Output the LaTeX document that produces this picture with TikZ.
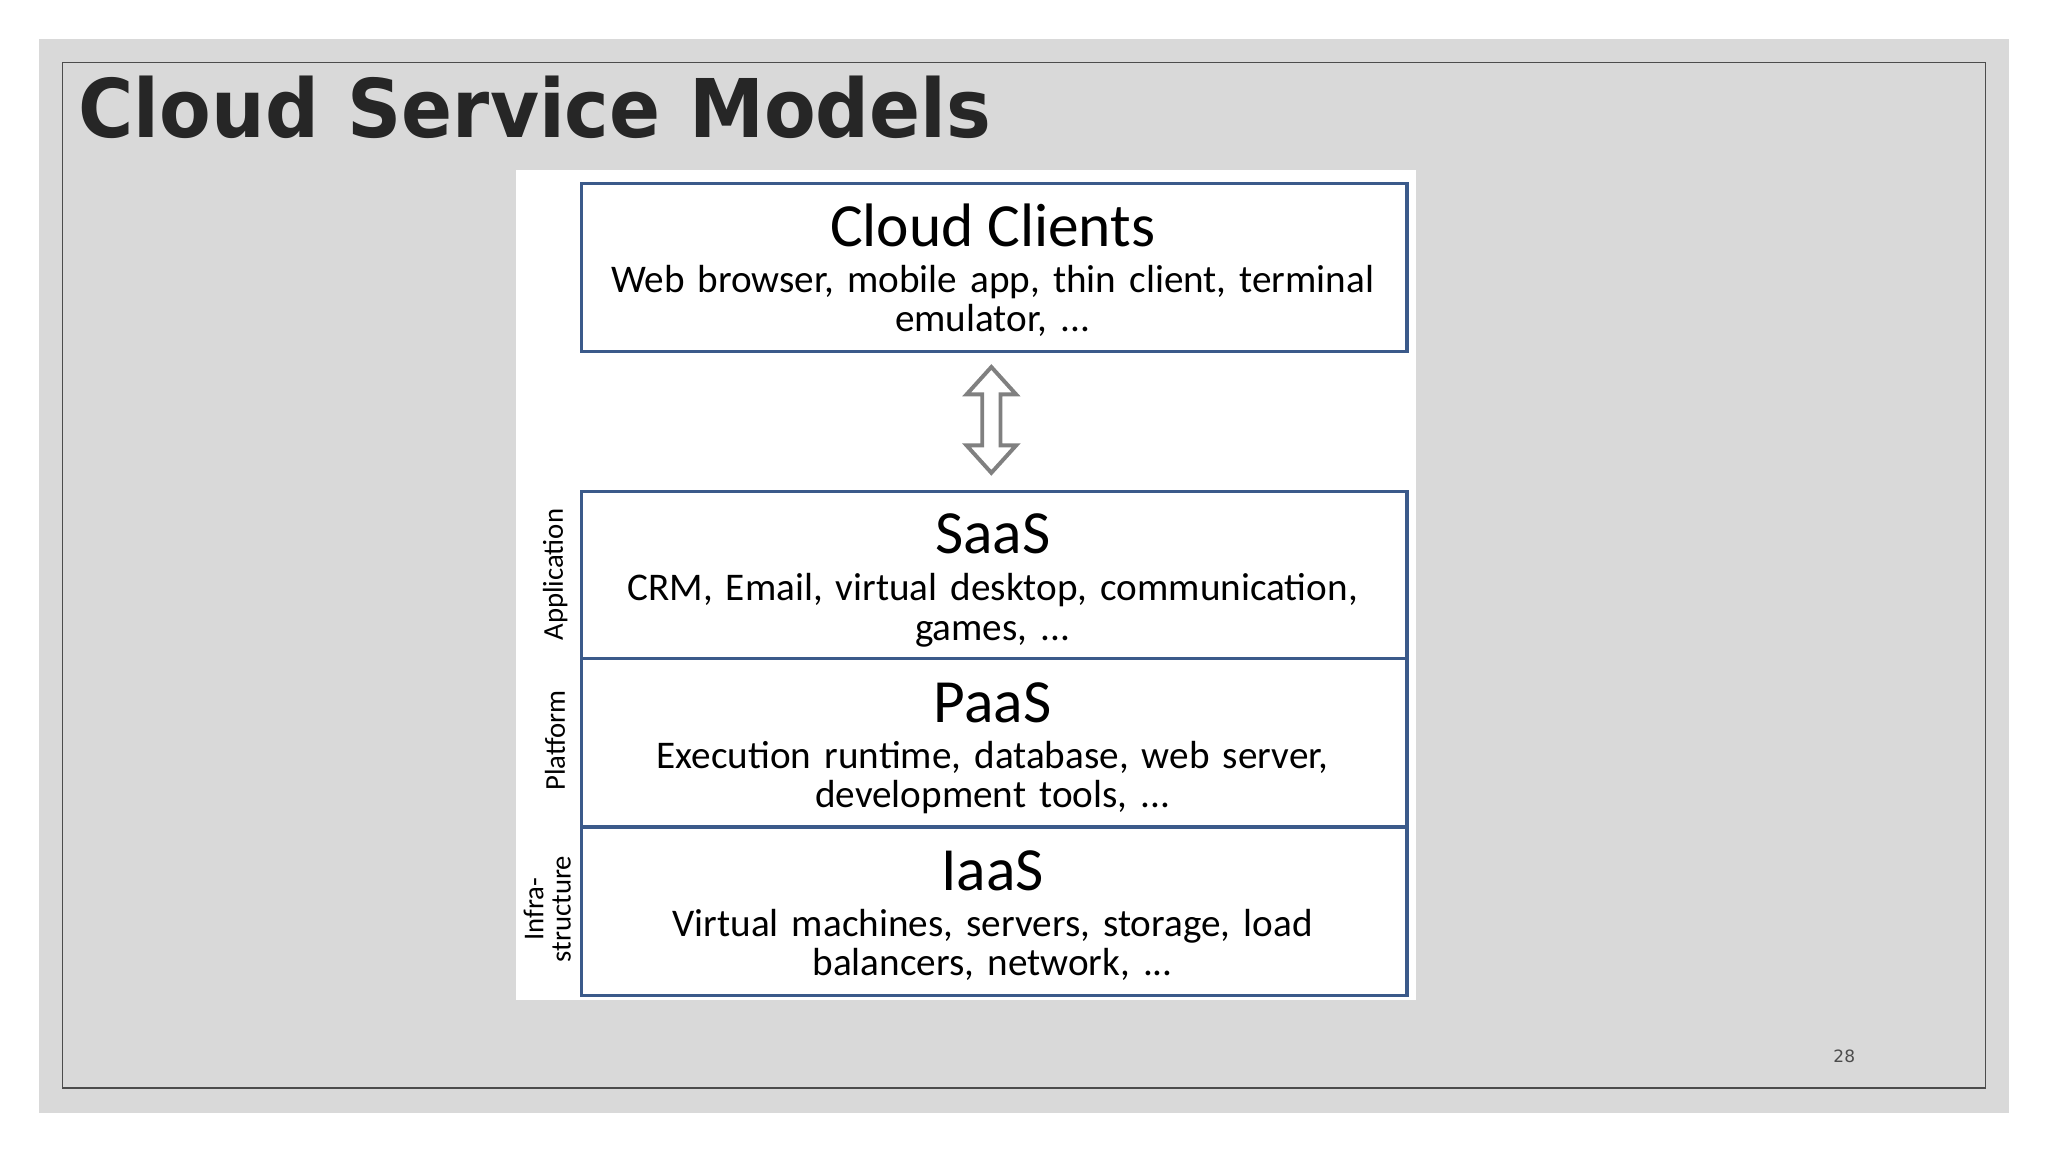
\documentclass[tikz,border=0pt]{standalone}
\usepackage{fontspec}
\setmainfont{Carlito}
\newfontfamily\titlefont{DejaVu Sans}
\definecolor{bgray}{HTML}{D9D9D9}
\definecolor{boxblue}{HTML}{3B5A8A}
\begin{document}
\begin{tikzpicture}[x=1pt,y=-1pt,
  layer/.style={draw=boxblue,line width=2.5pt,fill=white,minimum width=632pt,minimum height=129pt,anchor=north west,inner sep=0pt},
  head/.style={font=\fontsize{47}{50}\selectfont},
  body/.style={font=\fontsize{30}{30}\selectfont,align=center,text width=620pt},
  side/.style={font=\fontsize{22}{21}\selectfont,rotate=90,align=center}]
\useasboundingbox (0,0) rectangle (1568,882);
\fill[white] (0,0) rectangle (1568,882);
\fill[bgray] (30,30) rectangle (1538,852);
\draw[black!70,line width=0.8pt] (48,48) rectangle (1520,833);
\node[anchor=base west,inner sep=0pt,xscale=0.93,font=\titlefont\bfseries\fontsize{62}{66}\selectfont,text=black!85] (title) at (60,105) {Cloud\hspace{2pt} Service\hspace{2pt} Models};
\fill[white] (395,130) rectangle (1084,766);
\node[layer] (cc) at (444,139) {};
\node[layer] (saas) at (444,375) {};
\node[layer] (paas) at (444,503) {};
\node[layer] (iaas) at (444,632) {};
\node[head,anchor=base] (cct) at (760,189) {Cloud Clients};
\node[body,anchor=base] (ccb) at (760,224) {Web browser, mobile app, thin client, terminal\\emulator, ...};
\node[head,anchor=base] (st) at (760,424) {SaaS};
\node[body,anchor=base] (sb) at (760,460) {CRM, Email, virtual desktop, communication,\\games, ...};
\node[head,anchor=base] (pt) at (760,553) {PaaS};
\node[body,anchor=base] (pb) at (760,588) {Execution runtime, database, web server,\\development tools, ...};
\node[head,anchor=base] (it) at (760,682) {IaaS};
\node[body,anchor=base] (ib) at (760,717) {Virtual machines, servers, storage, load\\balancers, network, ...};
\draw[gray,line width=3pt,fill=white,line join=miter] (759,281) -- (778,302) -- (766,302) -- (766,341) -- (778,341) -- (759,362) -- (740,341) -- (752,341) -- (752,302) -- (740,302) -- cycle;
\node[side] (app) at (425,440) {Application};
\node[side] (plat) at (425,567) {Platform};
\node[side] (infra) at (419,696) {Infra-\\structure};
\node[font=\fontsize{13}{14}\selectfont\titlefont,text=black!70] (pg) at (1412,809) {28};
\end{tikzpicture}
\end{document}
